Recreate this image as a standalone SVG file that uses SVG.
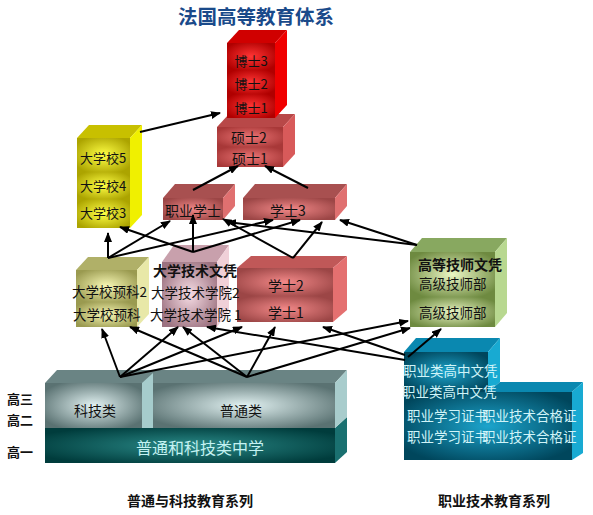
<svg xmlns="http://www.w3.org/2000/svg" width="593" height="515" viewBox="0 0 593 515">
<defs>
<style>
text{font-family:"Noto Sans CJK SC","Liberation Sans",sans-serif;}
.t{font-size:13px;fill:#111;text-anchor:middle;}
.b{font-size:14px;font-weight:bold;fill:#111;}
.lt{font-size:13.5px;fill:#d0f4f8;}
.ln{stroke:#000;stroke-width:2;fill:none;marker-end:url(#ah);}
</style>
<marker id="ah" markerWidth="10" markerHeight="8" refX="9" refY="4" orient="auto" markerUnits="userSpaceOnUse"><path d="M0,0 L10,4 L0,8 z" fill="#000"/></marker>
<radialGradient id="gRed" cx="50%" cy="50%" r="60%"><stop offset="0" stop-color="#ff3535"/><stop offset="1" stop-color="#b00000"/></radialGradient>
<radialGradient id="gMar" cx="50%" cy="50%" r="60%"><stop offset="0" stop-color="#ec7474"/><stop offset="1" stop-color="#a83838"/></radialGradient>
<radialGradient id="gYel" cx="50%" cy="50%" r="60%"><stop offset="0" stop-color="#ffff45"/><stop offset="1" stop-color="#aca400"/></radialGradient>
<radialGradient id="gRose" cx="50%" cy="50%" r="60%"><stop offset="0" stop-color="#f28888"/><stop offset="1" stop-color="#9c4646"/></radialGradient>
<radialGradient id="gOli" cx="50%" cy="50%" r="60%"><stop offset="0" stop-color="#f8f8b4"/><stop offset="1" stop-color="#9a9a50"/></radialGradient>
<radialGradient id="gPink" cx="50%" cy="50%" r="60%"><stop offset="0" stop-color="#f6dce4"/><stop offset="1" stop-color="#9c7280"/></radialGradient>
<radialGradient id="gGrn" cx="50%" cy="50%" r="60%"><stop offset="0" stop-color="#eaf6c4"/><stop offset="1" stop-color="#6e8a40"/></radialGradient>
<radialGradient id="gTeal" cx="50%" cy="50%" r="60%"><stop offset="0" stop-color="#1ca4cc"/><stop offset="1" stop-color="#00465c"/></radialGradient>
<radialGradient id="gGrey" cx="50%" cy="50%" r="60%"><stop offset="0" stop-color="#e2f2f2"/><stop offset="1" stop-color="#5a7272"/></radialGradient>
<radialGradient id="gDark" cx="50%" cy="50%" r="60%"><stop offset="0" stop-color="#2a8a88"/><stop offset="1" stop-color="#003c3c"/></radialGradient>
</defs>
<rect width="593" height="515" fill="#fff"/>
<text x="178" y="24" style="font-size:19.5px;font-weight:bold;fill:#1a4a8a">法国高等教育体系</text>

<!-- 普通和科技类中学 -->
<g id="n-zhongxue">
<polygon points="335,428 347,417 347,452 335,463" fill="#1a7070"/>
<rect x="45" y="428" width="290" height="35" fill="url(#gDark)"/>
<text x="200" y="454" style="font-size:16px;fill:#c4f2f2;text-anchor:middle">普通和科技类中学</text>
</g>
<!-- 科技类 / 普通类 -->
<g id="n-kejilei-putonglei">
<polygon points="45,383 57,370 347,370 335,383" fill="#6a8484"/>
<polygon points="335,383 347,370 347,417 335,428" fill="#a8cccc"/>
<rect x="45" y="383" width="97" height="45" fill="url(#gGrey)"/>
<polygon points="142,383 153,373 153,428 142,428" fill="#a6cccc"/>
<rect x="153" y="383" width="182" height="45" fill="url(#gGrey)"/>
<text class="t" x="95" y="416" style="font-size:14px">科技类</text>
<text class="t" x="241" y="416" style="font-size:14px">普通类</text>
</g>
<g id="n-grades">
<text class="b" x="7" y="404" style="font-size:13px">高三</text>
<text class="b" x="7" y="425" style="font-size:13px">高二</text>
<text class="b" x="7" y="457" style="font-size:13px">高一</text>
</g>

<!-- 职业类 teal -->
<g id="n-zhiye">
<polygon points="404,352 416,338 500,338 488,352" fill="#0a88b0"/>
<polygon points="488,352 500,338 500,382 488,392" fill="#18aad2"/>
<polygon points="488,392 500,382 583,382 572,392" fill="#0a88b0"/>
<polygon points="572,392 583,382 583,453 572,460" fill="#18aad2"/>
<rect x="404" y="352" width="84" height="40" fill="url(#gTeal)"/>
<rect x="404" y="392" width="168" height="68" fill="url(#gTeal)"/>
<text class="lt" x="403" y="376">职业类高中文凭</text>
<text class="lt" x="402" y="397">职业类高中文凭</text>
<text class="lt" x="407" y="421">职业学习证书</text>
<text class="lt" x="482" y="421">职业技术合格证</text>
<text class="lt" x="407" y="442">职业学习证书</text>
<text class="lt" x="482" y="442">职业技术合格证</text>
</g>

<!-- 学士2/1 -->
<g id="n-xueshi12">
<polygon points="237,268 251,256 347,256 333,268" fill="#c05858"/>
<polygon points="333,268 347,256 347,310 333,322" fill="#e47070"/>
<rect x="237" y="268" width="96" height="28" fill="url(#gRose)"/>
<rect x="237" y="296" width="96" height="26" fill="url(#gRose)"/>
<text class="t" x="286" y="291" style="font-size:14px">学士2</text>
<text class="t" x="286" y="318" style="font-size:14px">学士1</text>
</g>
<!-- 大学校预科 -->
<g id="n-yuke">
<polygon points="76,270 88,257 149,257 137,270" fill="#b0b068"/>
<polygon points="137,270 149,257 149,314 137,327" fill="#e8e8a8"/>
<rect x="76" y="270" width="61" height="32" fill="url(#gOli)"/>
<rect x="76" y="302" width="61" height="25" fill="url(#gOli)"/>
<text x="72" y="297" style="font-size:13.5px;fill:#111">大学校预科2</text>
<text x="73" y="320" style="font-size:13.5px;fill:#111">大学校预科</text>
</g>
<!-- 大学技术文凭 -->
<g id="n-jishu">
<polygon points="162,262 174,245 229,245 217,262" fill="#c8a0ac"/>
<polygon points="217,262 229,245 229,310 217,327" fill="#f0d0d8"/>
<rect x="162" y="262" width="55" height="65" fill="url(#gPink)"/>
<text class="b" x="153" y="276">大学技术文凭</text>
<text x="151" y="298" style="font-size:13.5px;fill:#111">大学技术学院2</text>
<text x="150" y="320" style="font-size:13.5px;fill:#111">大学技术学院 1</text>
</g>
<!-- 高等技师文凭 -->
<g id="n-jishi">
<polygon points="410,252 422,238 507,238 495,252" fill="#88a860"/>
<polygon points="495,252 507,238 507,313 495,327" fill="#b8d890"/>
<rect x="410" y="252" width="85" height="45" fill="url(#gGrn)"/>
<rect x="410" y="297" width="85" height="30" fill="url(#gGrn)"/>
<text class="b" x="418" y="270">高等技师文凭</text>
<text x="419" y="289" style="font-size:13.5px;fill:#111">高级技师部</text>
<text x="419" y="318" style="font-size:13.5px;fill:#111">高级技师部</text>
</g>

<!-- 大学校 -->
<g id="n-daxuexiao">
<polygon points="77,138 89,125 142,125 130,138" fill="#c8c000"/>
<polygon points="130,138 142,125 142,215 130,228" fill="#f0f000"/>
<rect x="77" y="138" width="53" height="34" fill="url(#gYel)"/>
<rect x="77" y="172" width="53" height="27" fill="url(#gYel)"/>
<rect x="77" y="199" width="53" height="29" fill="url(#gYel)"/>
<text class="t" x="103" y="163">大学校5</text>
<text class="t" x="103" y="191">大学校4</text>
<text class="t" x="103" y="218">大学校3</text>
</g>
<!-- 职业学士 -->
<g id="n-zhiyexueshi">
<polygon points="163,198 175,184 235,184 223,198" fill="#a85050"/>
<polygon points="223,198 235,184 235,206 223,220" fill="#e07070"/>
<rect x="163" y="198" width="60" height="22" fill="url(#gRose)"/>
<text class="t" x="193" y="216" style="font-size:14px">职业学士</text>
</g>
<!-- 学士3 -->
<g id="n-xueshi3">
<polygon points="243,198 255,184 347,184 335,198" fill="#a85050"/>
<polygon points="335,198 347,184 347,206 335,220" fill="#e07070"/>
<rect x="243" y="198" width="92" height="22" fill="url(#gRose)"/>
<text class="t" x="288" y="216" style="font-size:14px">学士3</text>
</g>
<!-- 硕士 -->
<g id="n-shuoshi">
<polygon points="217,127 229,114 295,114 283,127" fill="#b84848"/>
<polygon points="283,127 295,114 295,154 283,167" fill="#d85a5a"/>
<rect x="217" y="127" width="66" height="20" fill="url(#gMar)"/>
<rect x="217" y="147" width="66" height="20" fill="url(#gMar)"/>
<text class="t" x="249" y="143" style="font-size:14px">硕士2</text>
<text class="t" x="250" y="164" style="font-size:14px">硕士1</text>
</g>
<!-- 博士 -->
<g id="n-boshi">
<polygon points="227,43 239,30 287,30 275,43" fill="#d00000"/>
<polygon points="275,43 287,30 287,105 275,118" fill="#f00000"/>
<rect x="227" y="43" width="48" height="27" fill="url(#gRed)"/>
<rect x="227" y="70" width="48" height="24" fill="url(#gRed)"/>
<rect x="227" y="94" width="48" height="24" fill="url(#gRed)"/>
<text class="t" x="251" y="66">博士3</text>
<text class="t" x="251" y="89">博士2</text>
<text class="t" x="251" y="113">博士1</text>
</g>

<g id="connectors">
<line class="ln" x1="140" y1="132" x2="220" y2="113"/>
<line class="ln" x1="193" y1="190" x2="238" y2="166"/>
<line class="ln" x1="308" y1="188" x2="265" y2="166"/>
<line class="ln" x1="108" y1="258" x2="108" y2="233"/>
<line class="ln" x1="108" y1="258" x2="170" y2="221"/>
<line class="ln" x1="108" y1="258" x2="273" y2="220"/>
<line class="ln" x1="193" y1="252" x2="120" y2="227"/>
<line class="ln" x1="193" y1="252" x2="193" y2="215"/>
<line class="ln" x1="193" y1="252" x2="300" y2="220"/>
<line class="ln" x1="293" y1="258" x2="322" y2="222"/>
<line class="ln" x1="293" y1="258" x2="223" y2="219"/>
<line class="ln" x1="417" y1="245" x2="340" y2="220"/>
<line class="ln" x1="417" y1="245" x2="227" y2="222"/>
<line class="ln" x1="120" y1="377" x2="102" y2="329"/>
<line class="ln" x1="120" y1="377" x2="178" y2="327"/>
<line class="ln" x1="120" y1="377" x2="242" y2="327"/>
<line class="ln" x1="120" y1="377" x2="408" y2="321"/>
<line class="ln" x1="247" y1="377" x2="130" y2="327"/>
<line class="ln" x1="247" y1="377" x2="183" y2="327"/>
<line class="ln" x1="247" y1="377" x2="275" y2="327"/>
<line class="ln" x1="247" y1="377" x2="410" y2="328"/>
<line class="ln" x1="405" y1="360" x2="207" y2="327"/>
<line class="ln" x1="405" y1="355" x2="323" y2="327"/>
<line class="ln" x1="408" y1="357" x2="441" y2="329"/>
</g>

<text class="b" x="127" y="506">普通与科技教育系列</text>
<text class="b" x="438" y="506">职业技术教育系列</text>
</svg>
